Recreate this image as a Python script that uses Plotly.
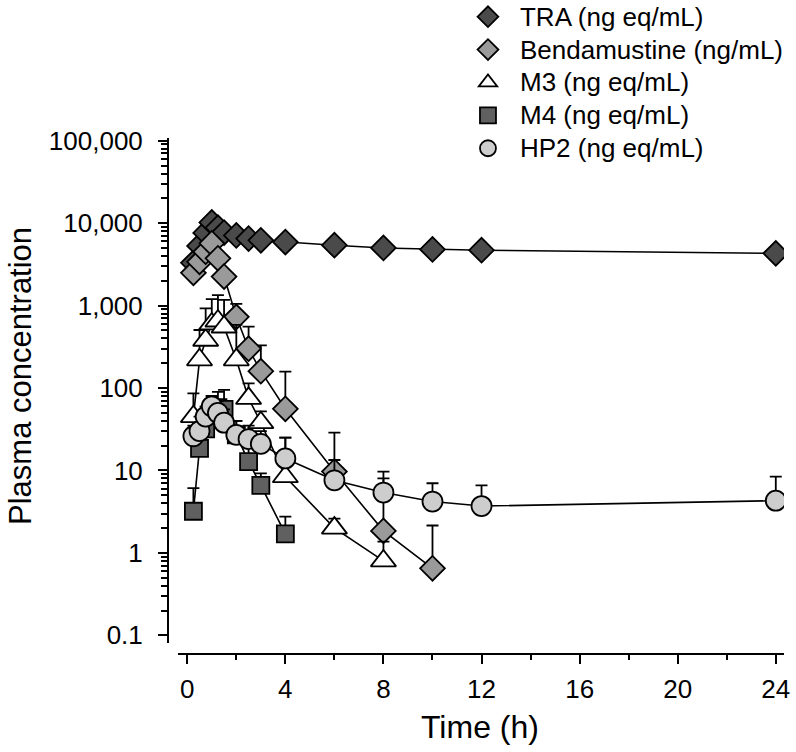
import plotly.graph_objects as go

# ---------------- data ----------------
time_tra = [0.25, 0.5, 0.75, 1, 1.25, 1.5, 2, 2.5, 3, 4, 6, 8, 10, 12, 24]
tra = [3300, 5300, 7600, 10200, 8800, 7700, 7100, 6500, 6200, 5900, 5400, 5000, 4800, 4700, 4300]
tra_upper = [3300, 5300, 7600, 10200, 8800, 7700, 7100, 6500, 6200, 5900, 5400, 5000, 4800, 4700, 4300]

time_benda = [0.25, 0.5, 0.75, 1, 1.25, 1.5, 2, 2.5, 3, 4, 6, 8, 10]
benda = [2500, 3400, 4500, 5700, 3750, 2250, 730, 300, 160, 56, 9.7, 1.85, 0.65]
benda_upper = [2500, 3400, 4500, 5700, 3750, 2250, 1050, 555, 330, 158, 28.7, 8, 2.15]

time_m3 = [0.25, 0.5, 0.75, 1, 1.25, 1.5, 2, 2.5, 3, 4, 6, 8]
m3 = [45, 220, 380, 600, 650, 550, 220, 75, 38, 8.4, 2.0, 0.8]
m3_upper = [86, 506, 927, 1200, 1343, 1170, 582, 114, 52, 25, 2.6, 1.37]

time_m4 = [0.25, 0.5, 0.75, 1, 1.25, 1.5, 2, 2.5, 3, 4]
m4 = [3.2, 18.5, 32, 50, 58, 55, 27, 12.8, 6.6, 1.7]
m4_upper = [6.1, 30, 50, 80, 90, 95, 40, 20, 9.2, 2.75]

time_hp2 = [0.25, 0.5, 0.75, 1, 1.25, 1.5, 2, 2.5, 3, 4, 6, 8, 10, 12, 24]
hp2 = [26, 30, 45, 60, 50, 38, 27, 24, 21, 14, 7.6, 5.4, 4.2, 3.7, 4.3]
hp2_upper = [35, 45, 60, 80, 70, 55, 40, 35, 30, 25, 13.4, 9.7, 7.0, 6.6, 8.4]

series_names = ["TRA (ng eq/mL)", "Bendamustine (ng/mL)", "M3 (ng eq/mL)",
                "M4 (ng eq/mL)", "HP2 (ng eq/mL)"]

x_tickvals = [0, 4, 8, 12, 16, 20, 24]
y_tickvals = [0.1, 1, 10, 100, 1000, 10000, 100000]
y_ticktext = ["0.1", "1", "10", "100", "1,000", "10,000", "100,000"]

# ---------------- figure ----------------
FONT = "Liberation Sans, Arial, sans-serif"

styles = [
    dict(symbol="diamond", size=19, color="#4a4a4a"),
    dict(symbol="diamond", size=19, color="#9a9a9a"),
    dict(symbol="triangle-up", size=22, color="#ffffff"),
    dict(symbol="square", size=17, color="#606060"),
    dict(symbol="circle", size=20, color="#cdcdcd"),
]
data = [
    (time_tra, tra, tra_upper),
    (time_benda, benda, benda_upper),
    (time_m3, m3, m3_upper),
    (time_m4, m4, m4_upper),
    (time_hp2, hp2, hp2_upper),
]

fig = go.Figure()
for name, st, (t, v, up) in zip(series_names, styles, data):
    err = [u - m for u, m in zip(up, v)]
    # connecting line (kept out of the legend)
    fig.add_trace(go.Scatter(
        x=t, y=v, mode="lines", showlegend=False, hoverinfo="skip",
        line=dict(color="black", width=1.6),
    ))
    # markers with upward SD bars
    fig.add_trace(go.Scatter(
        x=t, y=v, mode="markers",
        name='<span style="font-size:26px">' + name + '</span>',
        marker=dict(symbol=st["symbol"], size=st["size"], color=st["color"],
                    line=dict(color="black", width=1.8)),
        error_y=dict(type="data", symmetric=False, array=err,
                     arrayminus=[0] * len(err), color="black",
                     thickness=1.8, width=6),
    ))

minor_y = [d * 10 ** e for e in range(-1, 5) for d in range(2, 10)]

fig.update_layout(
    width=796, height=752,
    margin=dict(l=168, r=12, t=138, b=98, autoexpand=False),
    paper_bgcolor="white", plot_bgcolor="white",
    font=dict(family=FONT, color="black", size=26),
    showlegend=True,
    legend=dict(
        x=0.4675, y=1.2767, xanchor="left", yanchor="top",
        font=dict(size=23, family=FONT),
        bgcolor="rgba(0,0,0,0)", borderwidth=0, itemwidth=54,
        tracegroupgap=0,
    ),
    xaxis=dict(
        domain=[0.0162, 1], anchor="free", position=0,
        range=[-0.379, 24.335],
        tickvals=x_tickvals, ticks="outside", ticklen=9, tickwidth=2,
        tickcolor="black", showline=True, linecolor="black", linewidth=2,
        showgrid=False, zeroline=False, ticklabelstandoff=3,
        tickfont=dict(size=26, family=FONT),
        minor=dict(dtick=2, tick0=0, ticks="outside", ticklen=5,
                   tickwidth=2, tickcolor="black", showgrid=False),
    ),
    yaxis=dict(
        type="log", domain=[0.0213, 1], anchor="free", position=0,
        range=[-1.093, 5.033],
        tickvals=y_tickvals, ticktext=y_ticktext,
        ticks="outside", ticklen=9, tickwidth=2, tickcolor="black",
        showline=True, linecolor="black", linewidth=2,
        showgrid=False, zeroline=False, ticklabelstandoff=10,
        tickfont=dict(size=26, family=FONT),
        minor=dict(tickvals=minor_y, ticks="outside", ticklen=6,
                   tickwidth=1.5, tickcolor="black", showgrid=False),
    ),
    annotations=[
        dict(text="Time (h)", xref="paper", yref="paper",
             x=0.5065, y=-0.1415, xanchor="center", yanchor="middle",
             showarrow=False, font=dict(size=32, family=FONT)),
        dict(text="Plasma concentration", xref="paper", yref="paper",
             x=-0.2386, y=0.5388, xanchor="center", yanchor="middle",
             textangle=-90, showarrow=False, font=dict(size=31, family=FONT)),
    ],
)

# remove the browser's default 8 px page margin so the figure fills the window
fig.write_html("out.html",
               config={"displayModeBar": False},
               post_script="document.body.style.margin='0';"
                           "document.body.style.overflow='hidden';")
